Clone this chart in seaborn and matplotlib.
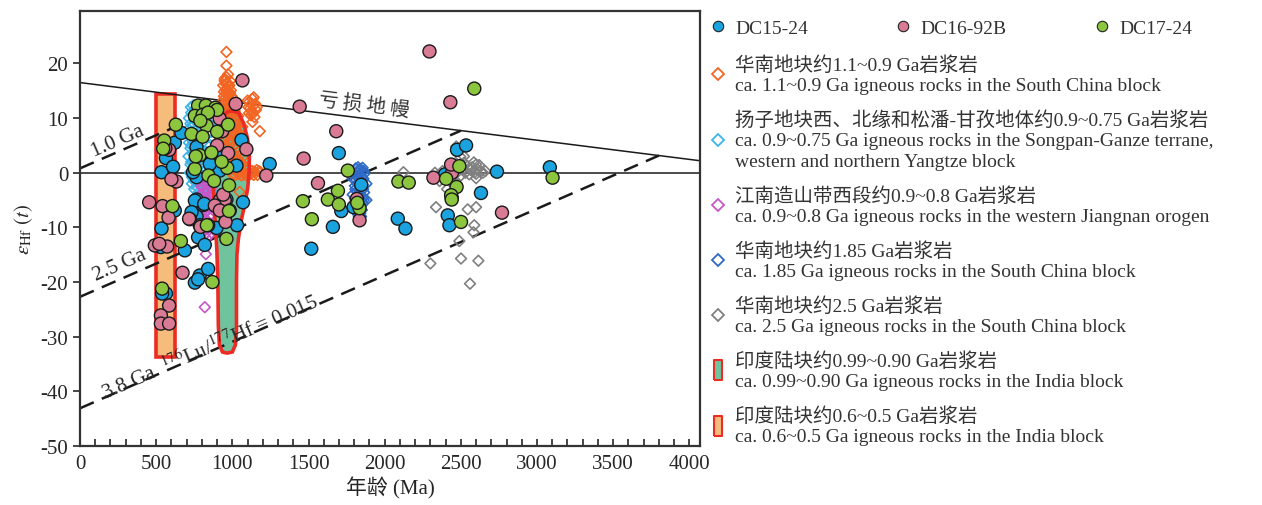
import numpy as np
import pandas as pd
import seaborn as sns
import matplotlib.pyplot as plt
from matplotlib.lines import Line2D

# ---- sample data: age (Ma) and epsilon Hf(t) ----
dc15_24 = [(535, 0.1), (564, 2.7), (611, 1.1), (622, 5.5), (666, 7.3), (765, 4.7), (891, 3.2),
           (855, 2.1), (917, 0.4), (765, -0.8), (1027, 1.3), (1060, 6.0), (1245, 1.6), (852, 1.6),
           (742, 0.1), (622, -6.9), (765, -4.9), (809, -5.9), (765, -8.0), (896, -10.1), (955, -7.8),
           (1070, -5.4), (1031, -9.6), (961, -4.9), (754, -5.1), (815, -5.7), (732, -7.2), (786, -9.6),
           (841, -9.6), (775, -11.8), (819, -13.2), (688, -14.2), (535, -10.2), (531, -13.6),
           (786, -18.8), (754, -20.1), (841, -17.6), (775, -19.5), (564, -22.1), (539, -22.1),
           (1699, 3.6), (2475, 4.2), (2534, 5.0), (1715, -7.0), (1660, -9.9), (1518, -13.9),
           (1846, -2.2), (1796, -6.3), (2086, -8.4), (2136, -10.2), (2396, -0.3), (2440, -4.6),
           (2414, -7.8), (2425, -9.6), (2632, -3.7), (2737, 0.2), (3084, 1.0)]
dc16_92b = [(1066, 16.9), (1442, 12.1), (1022, 12.6), (917, 9.9), (933, 7.6), (972, 3.6), (1092, 4.3),
            (585, 4.2), (1682, 7.6), (1468, 2.6), (1223, -0.5), (633, -1.6), (600, -1.2), (454, -5.4),
            (542, -6.1), (581, -8.2), (721, -8.5), (791, -9.9), (917, -5.1), (950, -5.0), (885, -6.0),
            (918, -6.9), (983, -6.9), (716, -8.4), (491, -13.3), (572, -13.5), (673, -18.3),
            (585, -24.3), (531, -26.1), (531, -27.6), (585, -27.6), (2294, 22.2), (2431, 12.9),
            (1562, -1.9), (1817, -4.8), (1835, -8.7), (2320, -0.9), (2442, 0.0), (2436, 1.5),
            (2770, -7.3), (520, -13.0), (560, 4.5), (940, -4.0), (900, 5.0), (955, -9.0)]
dc17_24 = [(775, 12.3), (826, 12.3), (889, 11.9), (754, 10.4), (805, 10.6), (830, 8.6), (629, 8.8),
           (732, 7.1), (805, 6.6), (972, 8.8), (553, 5.9), (546, 4.4), (786, 3.2), (863, 3.7),
           (754, 0.7), (966, 0.9), (978, -2.3), (843, -0.5), (607, -6.1), (833, -9.6), (978, -7.0),
           (961, -12.1), (662, -12.5), (539, -21.2), (869, -20.0), (1463, -5.2), (1522, -8.5),
           (1627, -4.9), (1693, -3.3), (1699, -5.8), (1758, 0.4), (1835, -6.5), (1820, -5.5),
           (2090, -1.6), (2158, -1.8), (2403, -1.1), (2490, 1.2), (2472, -2.6), (2436, -4.1),
           (2440, -4.9), (2501, -9.0), (2588, 15.4), (3102, -0.9), (900, 11.5), (840, 11.0),
           (790, 9.5), (900, 7.5), (760, 3.0), (880, -1.5), (930, 2.0)]

# ---- literature fields (open diamonds) ----
sc_1100_900 = [(961, 22.1), (961, 19.6), (961, 17.5), (1132, 13.5), (1132, 10.8), (1132, 9.3),
               (1180, 7.6), (1048, -3.5), (950, 17.2), (972, 18.0), (985, 16.8),
               (950, 16.8), (965, 16.5), (980, 16.0), (955, 15.2), (970, 15.0), (985, 14.6),
               (945, 14.0), (960, 13.8), (975, 13.5), (990, 13.0), (950, 12.5), (968, 12.2),
               (982, 12.0), (1000, 12.8), (1010, 12.4), (1020, 11.9),
               (940, 16.0), (958, 16.2), (975, 15.8), (990, 15.1), (945, 14.8), (962, 14.6),
               (978, 14.2), (995, 14.0), (1008, 13.5), (938, 13.2), (952, 12.9), (968, 12.6),
               (985, 12.4), (1000, 11.8), (1015, 11.3), (942, 11.6), (958, 11.2), (975, 10.9),
               (992, 10.6), (1008, 10.1), (1022, 9.6), (1038, 10.4), (940, 9.8), (955, 9.4),
               (970, 9.0), (988, 8.9), (1004, 8.6), (1020, 8.0), (1035, 8.7), (1050, 7.9),
               (1065, 8.4), (945, 8.0), (962, 7.6), (980, 7.2), (996, 7.0), (1012, 6.6),
               (1030, 6.2), (1046, 5.9), (1062, 6.5), (1075, 5.6), (938, 6.4), (955, 6.1),
               (972, 5.6), (990, 5.3), (1006, 4.8), (1022, 4.4), (1040, 3.9), (1058, 3.5),
               (1072, 3.0), (950, 4.4), (966, 4.0), (984, 3.6), (1000, 3.2), (1016, 2.8),
               (1034, 2.4), (1050, 2.0), (1066, 1.6), (1082, 1.2), (945, 2.6), (962, 2.2),
               (978, 1.8), (995, 1.4), (1012, 1.0), (1028, 0.7), (1046, 0.4),
               (955, 11.0), (972, 10.8), (990, 10.5), (1005, 10.7), (1018, 10.2), (1030, 9.8),
               (1040, 9.2), (960, 9.0), (978, 8.7), (995, 8.5), (1012, 8.2), (1025, 7.8),
               (1038, 7.3), (1050, 6.8), (965, 6.5), (985, 6.0), (1002, 5.8), (1020, 5.2),
               (1035, 4.6), (1048, 4.0), (970, 3.5), (990, 3.0), (1008, 2.6), (1025, 2.2),
               (1042, 1.8), (1055, 1.4),
               (1100, 13.2), (1112, 13.0), (1125, 12.6), (1105, 12.0), (1118, 11.8), (1130, 11.2),
               (1110, 10.9), (1122, 10.5), (1150, 12.6), (1140, 13.8), (1155, 11.5), (1145, 10.2),
               (1160, 12.0),
               (1010, 0.6), (1030, 0.3), (1050, 0.5), (1070, 0.2), (1090, 0.4), (1110, 0.1),
               (1130, 0.3), (1145, 0.2), (1000, -0.3), (1020, -0.4), (1040, -0.2), (1060, -0.5),
               (1080, -0.3), (1100, -0.6), (1120, -0.2), (1140, -0.4), (1160, 0.5), (1175, 0.3),
               (1185, 0.1), (1165, -0.4)]
yz_900_750 = [(730, 11.0), (745, 10.5), (760, 11.5), (725, 9.0), (740, 8.5), (755, 9.5), (770, 8.0),
              (720, 7.0), (735, 6.0), (750, 6.8), (765, 5.5), (725, 4.5), (740, 3.5), (755, 4.0),
              (770, 2.5), (730, 2.0), (745, 1.0), (760, 0.5), (775, -0.5), (735, -0.8), (750, -1.5),
              (790, -2.0), (805, -1.0), (820, -3.0), (850, 9.0), (860, 7.5), (870, 6.0), (855, 5.0),
              (865, 3.5), (875, 2.0), (850, 1.0), (860, 0.0), (840, -2.0), (865, -3.5), (780, 6.0),
              (790, 4.5), (800, 2.5), (815, 1.0), (830, 3.0), (845, 10.5),
              (715, 10.0), (728, 12.0), (742, 12.3), (758, 10.0), (772, 10.5), (785, 9.0), (712, 8.0),
              (728, 7.5), (745, 7.2), (760, 6.5), (775, 7.0), (790, 7.5), (715, 5.5), (730, 5.0),
              (745, 5.5), (760, 3.0), (775, 4.0), (712, 3.0), (725, 1.5), (740, 2.2), (755, 1.8),
              (770, 0.8), (785, 1.5), (720, 0.0), (735, -2.0), (750, -3.0), (765, -2.5), (780, -3.5),
              (795, -4.5), (810, -3.5)]
jn_900_800 = [(790, -1.5), (805, -2.5), (820, -1.0), (835, -3.0), (850, -2.0), (795, -4.0), (810, -5.0),
              (825, -4.5), (840, -5.5), (855, -4.0), (800, -6.5), (815, -7.5), (830, -7.0), (845, -8.0),
              (805, -9.0), (820, -10.0), (835, -9.5), (815, -11.5), (830, -12.0), (826, -14.9),
              (819, -24.6), (830, -3.5), (860, -6.5), (790, -8.0),
              (795, -2.5), (812, -3.5), (828, -2.0), (845, -3.5), (862, -2.8), (800, -5.5),
              (818, -6.0), (835, -6.3), (852, -5.2), (808, -8.0), (825, -8.5), (842, -9.3),
              (812, -10.8), (828, -11.0), (845, -11.5), (850, -10.0)]
sc_1850 = [(1810, 0.8), (1825, 1.0), (1840, 0.7), (1855, 0.9), (1805, -0.2), (1820, 0.0), (1835, -0.3),
           (1850, 0.1), (1865, -0.2), (1810, -1.2), (1830, -1.0), (1845, -1.5), (1860, -1.1),
           (1805, -2.4), (1820, -2.0), (1840, -2.6), (1855, -2.2), (1815, -3.4), (1830, -3.8),
           (1850, -3.2), (1865, -3.6), (1805, -4.6), (1825, -4.4), (1845, -5.0), (1860, -4.5),
           (1815, -5.8), (1835, -6.2), (1855, -5.6), (1820, -7.0), (1840, -7.4), (1850, -6.8),
           (1830, -8.0), (1812, -0.5), (1828, 0.5), (1848, -0.8), (1862, 0.3), (1808, -3.0),
           (1838, -3.0), (1858, -3.0), (1812, -5.2), (1828, -5.3), (1845, -6.0), (1862, -5.0),
           (1825, -7.6), (1845, -8.0), (1790, -1.0), (1790, -4.0), (1880, -2.0), (1880, -5.0),
           (1795, -6.5)]
sc_2500 = [(2123, 0.1), (2330, 0.0), (2337, -6.3), (2545, -6.7), (2600, -6.3), (2588, -9.6),
           (2583, -10.9), (2490, -12.5), (2501, -15.7), (2615, -16.1), (2300, -16.6), (2560, -20.3),
           (2380, 0.3), (2420, 0.0), (2450, 0.8), (2470, 1.5), (2480, 0.2), (2500, -0.5), (2510, 0.6),
           (2520, 1.8), (2530, 0.0), (2545, 1.2), (2555, -0.3), (2565, 0.5), (2575, 1.0), (2585, 1.9),
           (2590, 0.1), (2600, -0.2), (2610, 0.6), (2620, 1.4), (2630, 0.2), (2645, 0.0), (2660, 0.3),
           (2470, -2.0), (2360, -1.5), (2600, -1.0), (2520, 3.0), (2350, -0.6), (2410, -3.0),
           (2470, 4.8), (2497, 2.9), (2600, 1.5)]

# India fields
india_600_500_x = [498, 625, 625, 498]
india_600_500_y = [-33.7, -33.7, 14.4, 14.4]
india_990_900_x = [1000, 1040, 1075, 1100, 1112, 1110, 1100, 1080, 1060, 1040, 1030, 1027, 1027, 1020,
                   1000, 965, 935, 915, 908, 905, 898, 885, 876, 876, 885, 905, 935, 970]
india_990_900_y = [11.3, 11.0, 9.0, 6.2, 3.0, 0.0, -3.0, -6.0, -8.5, -12.0, -15.0, -20.0, -29.0, -31.5,
                   -32.8, -33.0, -32.8, -31.5, -28.0, -20.0, -14.0, -8.0, -3.0, 1.0, 5.0, 8.0, 10.3, 11.2]

# reference lines (endpoints)
dm_x, dm_y = [0, 4070], [16.5, 2.2]
ga10_x, ga10_y = [0, 1000], [0.8, 12.95]
ga25_x, ga25_y = [0, 2500], [-22.7, 7.7]
ga38_x, ga38_y = [0, 3800], [-43.1, 3.15]

c_blue, c_pink, c_green = '#1AA3DF', '#D97B94', '#8CC63F'
c_orange, c_lblue, c_purple = '#F26522', '#3CB4E8', '#C458C8'
c_dblue, c_gray = '#2E6AC6', '#808080'
c_red, c_ind1, c_ind2 = '#EC2B24', '#6FC49E', '#F5BC7C'

sns.set_style('ticks')
plt.rcParams['font.family'] = ['Liberation Serif', 'Noto Sans CJK SC']
plt.rcParams['mathtext.fontset'] = 'stix'
plt.rcParams['axes.unicode_minus'] = False

fig = plt.figure(figsize=(12.62, 5.06), dpi=100)
ax = fig.add_axes([0.0634, 0.1166, 0.4913, 0.8597])

# India fields
ax.fill(india_600_500_x, india_600_500_y, facecolor=c_ind2, edgecolor=c_red, lw=2.6, zorder=1)
ax.fill(india_990_900_x, india_990_900_y, facecolor=c_ind1, edgecolor='none', zorder=1)

# literature diamonds
for pts, col in [(yz_900_750, c_lblue), (jn_900_800, c_purple), (sc_1100_900, c_orange),
                 (sc_1850, c_dblue), (sc_2500, c_gray)]:
    d = pd.DataFrame(pts, columns=['age', 'ehf'])
    sns.scatterplot(data=d, x='age', y='ehf', marker='D', s=30, facecolor='none',
                    edgecolor=col, linewidth=1.2, ax=ax, zorder=2, legend=False)

ax.fill(india_990_900_x, india_990_900_y, facecolor='none', edgecolor=c_red, lw=2.6, zorder=3)

# reference lines
ax.axhline(0, color='#1a1a1a', lw=1.1, zorder=1.5)
ax.plot(dm_x, dm_y, color='#1a1a1a', lw=1.1, zorder=1.5)
for lx, ly in [(ga10_x, ga10_y), (ga25_x, ga25_y), (ga38_x, ga38_y)]:
    ax.plot(lx, ly, color='#1a1a1a', lw=1.8, dashes=(6, 3.5), zorder=1.5)

# samples
samples = pd.concat([
    pd.DataFrame(dc15_24, columns=['age', 'ehf']).assign(sample='DC15-24'),
    pd.DataFrame(dc16_92b, columns=['age', 'ehf']).assign(sample='DC16-92B'),
    pd.DataFrame(dc17_24, columns=['age', 'ehf']).assign(sample='DC17-24'),
])
sns.scatterplot(data=samples, x='age', y='ehf', hue='sample',
                palette={'DC15-24': c_blue, 'DC16-92B': c_pink, 'DC17-24': c_green},
                s=88, edgecolor='#1a1a1a', linewidth=1.0, ax=ax, zorder=4, legend=False)

# annotations
ax.text(1868, 12.6, '亏 损 地 幔', fontsize=14, rotation=-7.2, ha='center', va='center',
        color='#333333', family=['Noto Sans CJK SC'], fontweight='light')
ax.text(249, 5.9, '1.0 Ga', fontsize=15, rotation=23.5, ha='center', va='center')
ax.text(262, -16.8, '2.5 Ga', fontsize=15, rotation=23.5, ha='center', va='center')
ax.text(852, -31.8, '3.8 Ga  $^{176}$Lu/$^{177}$Hf = 0.015', fontsize=15, rotation=23.5,
        ha='center', va='center')

ax.set_xlim(0, 4070)
ax.set_ylim(-50, 29.6)
ax.set_xticks(range(0, 4001, 500))
ax.set_xticks(range(0, 4001, 100), minor=True)
ax.set_yticks(range(-50, 21, 10))
ax.tick_params(axis='x', which='both', direction='in', length=5, width=1.2, labelsize=15, pad=6)
ax.tick_params(axis='y', direction='out', length=5, width=1.2, labelsize=15)
for s in ax.spines.values():
    s.set_linewidth(1.6)
    s.set_color('#333333')
ax.set_xlabel('年龄 (Ma)', fontsize=15, labelpad=2)
ax.set_ylabel(r'$\varepsilon_{\mathrm{Hf}}$ $(t)$', fontsize=15, labelpad=4)

# legends
leg_font = {'family': ['Liberation Serif', 'Noto Sans CJK SC'], 'size': 14}
h1 = [Line2D([], [], ls='', marker='o', markersize=7.5, markerfacecolor=c,
             markeredgecolor='#222222', markeredgewidth=0.8) for c in (c_blue, c_pink, c_green)]
leg1 = fig.legend(h1, ['DC15-24', 'DC16-92B', 'DC17-24'], ncol=3, loc='upper left',
                  bbox_to_anchor=(708 / 1262, 1 - 20 / 506), frameon=False, prop=leg_font,
                  borderpad=0, borderaxespad=0, handlelength=1.0, handletextpad=0.4,
                  columnspacing=4.4)

bar = [(-0.35, -1), (0.35, -1), (0.35, 1), (-0.35, 1), (-0.35, -1)]
h2 = [Line2D([], [], ls='', marker='D', markersize=6, markerfacecolor='none',
             markeredgecolor=c, markeredgewidth=1.3) for c in (c_orange, c_lblue, c_purple, c_dblue, c_gray)]
h2 += [Line2D([], [], ls='', marker=bar, markersize=15, markerfacecolor=c,
              markeredgecolor=c_red, markeredgewidth=1.5) for c in (c_ind1, c_ind2)]
labels2 = ['华南地块约1.1~0.9 Ga岩浆岩\nca. 1.1~0.9 Ga igneous rocks in the South China block',
           '扬子地块西、北缘和松潘-甘孜地体约0.9~0.75 Ga岩浆岩\n'
           'ca. 0.9~0.75 Ga igneous rocks in the Songpan-Ganze terrane,\nwestern and northern Yangtze block',
           '江南造山带西段约0.9~0.8 Ga岩浆岩\nca. 0.9~0.8 Ga igneous rocks in the western Jiangnan orogen',
           '华南地块约1.85 Ga岩浆岩\nca. 1.85 Ga igneous rocks in the South China block',
           '华南地块约2.5 Ga岩浆岩\nca. 2.5 Ga igneous rocks in the South China block',
           '印度陆块约0.99~0.90 Ga岩浆岩\nca. 0.99~0.90 Ga igneous rocks in the India block',
           '印度陆块约0.6~0.5 Ga岩浆岩\nca. 0.6~0.5 Ga igneous rocks in the India block']
leg2 = fig.legend(h2, labels2, loc='upper left', bbox_to_anchor=(708 / 1262, 1 - 56 / 506),
                  frameon=False, prop=leg_font, borderpad=0, borderaxespad=0,
                  handlelength=1.0, handletextpad=0.4, labelspacing=0.82)
for t in leg1.get_texts() + leg2.get_texts():
    t.set_color('#333333')
for t in leg2.get_texts():
    t.set_linespacing(1.27)

fig.savefig('out.png', dpi=100)
